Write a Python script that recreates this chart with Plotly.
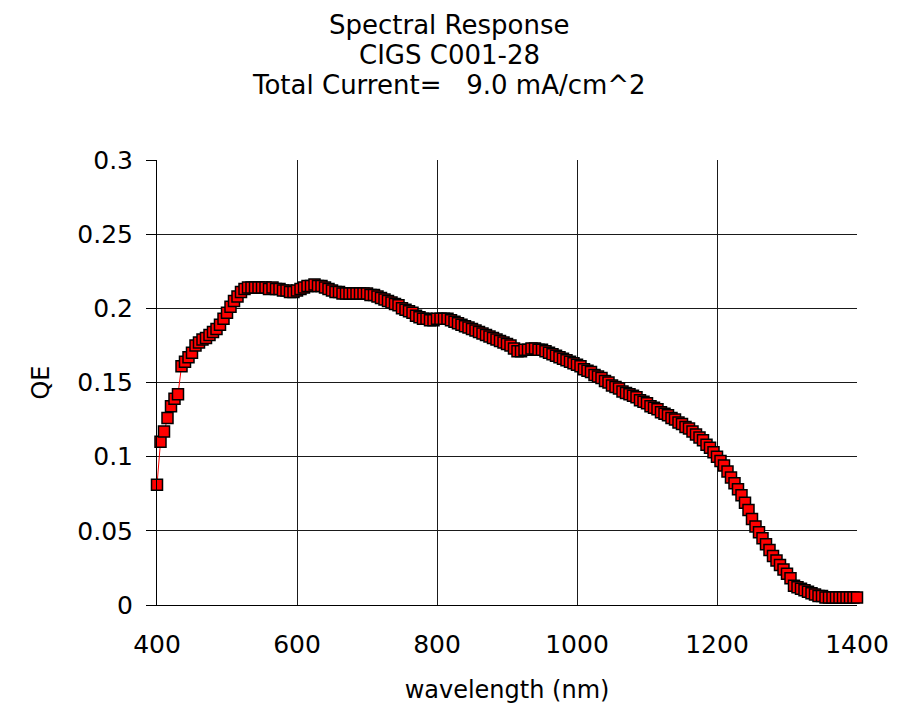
import plotly.graph_objects as go

# ---- data ----
wavelength_nm = list(range(400, 1401, 5))

qe = [
    0.081, 0.110, 0.117, 0.126, 0.134, 0.139, 0.142, 0.161, 0.164, 0.167,   # 400-445
    0.170, 0.175, 0.177, 0.179, 0.180, 0.182, 0.184, 0.186, 0.189, 0.193,   # 450-495
    0.197, 0.201, 0.205, 0.208, 0.211, 0.213, 0.214, 0.214, 0.214, 0.214,   # 500-545
    0.214, 0.214, 0.213, 0.214, 0.213, 0.213, 0.212, 0.212, 0.211, 0.211,   # 550-595
    0.212, 0.213, 0.214, 0.215, 0.215, 0.216, 0.215, 0.215, 0.214, 0.213,   # 600-645
    0.212, 0.211, 0.211, 0.210, 0.210, 0.210, 0.210, 0.210, 0.210, 0.210,   # 650-695
    0.210, 0.209, 0.209, 0.208, 0.207, 0.206, 0.205, 0.204, 0.203, 0.202,   # 700-745
    0.200, 0.199, 0.198, 0.197, 0.195, 0.194, 0.193, 0.193, 0.192, 0.192,   # 750-795
    0.193, 0.193, 0.193, 0.193, 0.192, 0.191, 0.190, 0.189, 0.188, 0.187,   # 800-845
    0.186, 0.185, 0.184, 0.183, 0.182, 0.181, 0.180, 0.179, 0.178, 0.177,   # 850-895
    0.176, 0.175, 0.173, 0.171, 0.171, 0.172, 0.172, 0.173, 0.173, 0.172,   # 900-945
    0.172, 0.171, 0.170, 0.169, 0.168, 0.167, 0.166, 0.165, 0.164, 0.163,   # 950-995
    0.162, 0.161, 0.159, 0.158, 0.157, 0.155, 0.154, 0.153, 0.151, 0.150,   # 1000-1045
    0.148, 0.147, 0.146, 0.144, 0.143, 0.142, 0.141, 0.140, 0.138, 0.137,   # 1050-1095
    0.136, 0.134, 0.133, 0.132, 0.130, 0.129, 0.128, 0.126, 0.125, 0.123,   # 1100-1145
    0.122, 0.120, 0.119, 0.117, 0.115, 0.113, 0.111, 0.108, 0.106, 0.103,   # 1150-1195
    0.100, 0.097, 0.094, 0.090, 0.086, 0.082, 0.078, 0.074, 0.069, 0.064,   # 1200-1245
    0.058, 0.053, 0.049, 0.045, 0.041, 0.037, 0.033, 0.030, 0.027, 0.024,   # 1250-1295
    0.021, 0.018, 0.013, 0.012, 0.011, 0.010, 0.009, 0.008, 0.007, 0.006,   # 1300-1345
    0.006, 0.005, 0.005, 0.005, 0.005, 0.005, 0.005, 0.005, 0.005, 0.005,   # 1350-1395
    0.005,                                                                   # 1400
]
assert len(qe) == len(wavelength_nm)

title_lines = ["Spectral Response", "CIGS C001-28", "Total Current=   9.0 mA/cm^2"]
x_ticks = [400, 600, 800, 1000, 1200, 1400]
y_ticks = [0, 0.05, 0.1, 0.15, 0.2, 0.25, 0.3]

FONT = "DejaVu Sans"

fig = go.Figure()
fig.add_trace(go.Scatter(
    x=wavelength_nm, y=qe, mode="lines+markers",
    line=dict(color="#FF0000", width=1),
    marker=dict(symbol="square", size=11, color="#FF0000",
                line=dict(color="#000000", width=1.5)),
    cliponaxis=False, showlegend=False,
))

# title lines (centred on the page)
title_y_px = [25, 55, 85]
plot_top, plot_bottom, plot_left, plot_right = 160, 605, 157, 857
for text, ypx in zip(title_lines, title_y_px):
    fig.add_annotation(
        text=text.replace("   ", "&nbsp;&nbsp;&nbsp;"),
        xref="paper", yref="paper",
        x=(449 - plot_left) / (plot_right - plot_left),
        y=(plot_bottom - ypx) / (plot_bottom - plot_top),
        xanchor="center", yanchor="middle", showarrow=False,
        font=dict(family=FONT, size=26, color="#000000"),
    )

fig.update_layout(
    width=898, height=704,
    margin=dict(l=plot_left, r=898 - plot_right, t=plot_top, b=704 - plot_bottom,
                pad=0, autoexpand=False),
    paper_bgcolor="#FFFFFF", plot_bgcolor="#FFFFFF",
    font=dict(family=FONT, size=25, color="#000000"),
    xaxis=dict(
        range=[400, 1400], tickvals=x_ticks, ticks="", automargin=False,
        showgrid=True, gridcolor="#1a1a1a", gridwidth=1,
        showline=True, linecolor="#000000", linewidth=1, mirror=False,
        zeroline=False, ticklabelstandoff=17,
        title=dict(text="wavelength (nm)", standoff=24,
                   font=dict(family=FONT, size=24)),
    ),
    yaxis=dict(
        range=[0, 0.3], tickvals=y_ticks, ticks="outside", ticklen=10,
        tickcolor="#000000", automargin=False,
        showgrid=True, gridcolor="#1a1a1a", gridwidth=1,
        showline=True, linecolor="#000000", linewidth=1,
        zeroline=False, ticklabelstandoff=8,
        title=dict(text="QE", standoff=20, font=dict(family=FONT, size=24)),
    ),
)

fig.write_html("out.html")
